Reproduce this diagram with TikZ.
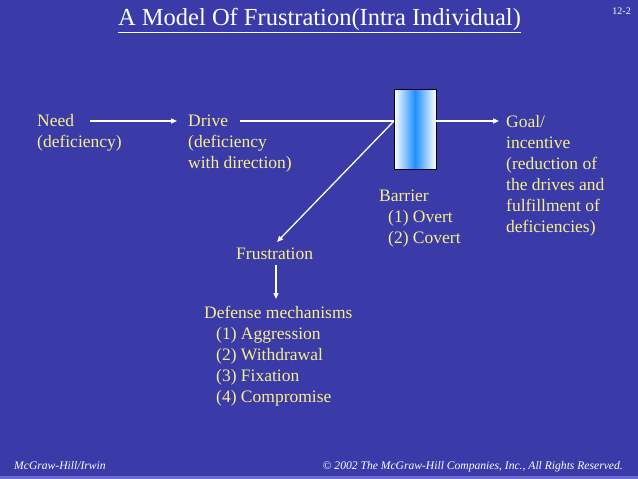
\documentclass[tikz,border=0pt]{standalone}
\usepackage{fontspec}
\setmainfont{Liberation Serif}
\usetikzlibrary{arrows.meta}
\definecolor{bg}{HTML}{3A3AA8}
\definecolor{strip}{HTML}{6A6AD0}
\definecolor{txt}{HTML}{F5F08A}
\definecolor{barblue}{HTML}{1E8FFF}
\tikzset{
  lbl/.style={text=txt, font=\fontsize{17.5}{21}\selectfont, align=left, inner sep=0pt, anchor=north west},
  conn/.style={draw=white, line width=1.3pt, -{Triangle[length=6pt,width=5pt]}},
  plainconn/.style={draw=white, line width=1.3pt},
  foot/.style={text=white, font=\itshape\fontsize{11.6}{13}\selectfont, inner sep=0pt},
}
\begin{document}
\begin{tikzpicture}[x=1pt,y=-1pt]
\useasboundingbox (0,0) rectangle (638,479);
\fill[bg] (0,0) rectangle (638,479);
\fill[strip] (0,476) rectangle (638,479);
% title
\node[text=white, font=\fontsize{24.5}{28}\selectfont, inner sep=0pt, anchor=base] (title) at (319.5,26) {\underline{A Model Of Frustration(Intra Individual)}};
\node[text=white, font=\fontsize{10}{12}\selectfont, inner sep=0pt, anchor=base east] (num) at (631,14) {12-2};
% nodes
\node[lbl] (need) at (37,114) {Need\\(deficiency)};
\node[lbl] (drive) at (188,114.5) {Drive\\(deficiency\\with direction)};
\node[lbl] (goal) at (506,115) {Goal/\\incentive\\(reduction of\\the drives and\\fulfillment of\\deficiencies)};
\node[lbl] (barriertxt) at (379,189.5) {Barrier\\\hspace*{9pt}(1) Overt\\\hspace*{9pt}(2) Covert};
\node[lbl] (frus) at (236,247.5) {Frustration};
\node[lbl] (def) at (204,306) {Defense mechanisms\\\hspace*{12pt}(1) Aggression\\\hspace*{12pt}(2) Withdrawal\\\hspace*{12pt}(3) Fixation\\\hspace*{12pt}(4) Compromise};
% barrier
\shade[left color=white, right color=barblue] (394,89) rectangle (415,169);
\shade[left color=barblue, right color=white] (415,89) rectangle (436,169);
\node[draw=black, line width=0.8pt, minimum width=42pt, minimum height=80pt, inner sep=0pt, anchor=north west] (barrier) at (394,89) {};
\coordinate (bl) at (394,121);
\coordinate (br) at (436,121);
\coordinate (needend) at (90,121);
\coordinate (driveend) at (177,121);
\coordinate (drivestart) at (240,121);
\coordinate (goalend) at (499,121);
\coordinate (frustip) at (277,242);
\coordinate (fdown1) at (276,265);
\coordinate (fdown2) at (276,299);
\draw[conn] (needend) -- (driveend);
\draw[plainconn] (drivestart) -- (bl);
\draw[conn] (bl) -- (frustip);
\draw[conn] (br) -- (goalend);
\draw[conn] (fdown1) -- (fdown2);
% footer
\node[foot, anchor=base west] (foot1) at (14,469) {McGraw-Hill/Irwin};
\node[foot, anchor=base east] (foot2) at (623,469) {© 2002 The McGraw-Hill Companies, Inc., All Rights Reserved.};
\end{tikzpicture}
\end{document}
